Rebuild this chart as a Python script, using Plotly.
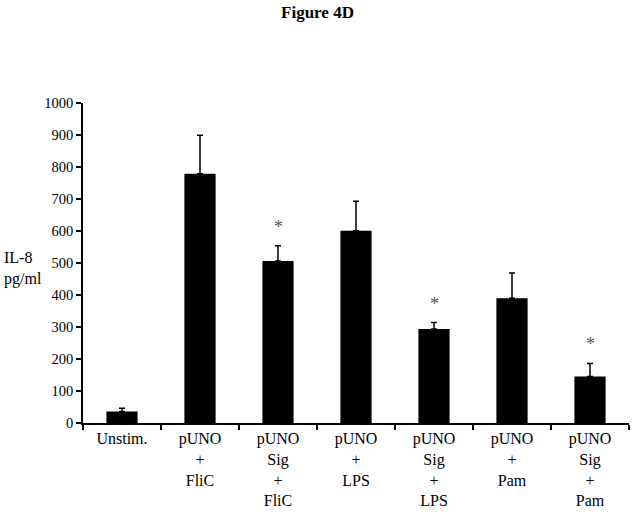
import plotly.graph_objects as go

categories = ["Unstim.", "pUNO<br>+<br>FliC", "pUNO<br>Sig<br>+<br>FliC", "pUNO<br>+<br>LPS",
              "pUNO<br>Sig<br>+<br>LPS", "pUNO<br>+<br>Pam", "pUNO<br>Sig<br>+<br>Pam"]
values = [36, 779, 506, 601, 294, 390, 145]
errors = [10, 120, 48, 92, 20, 79, 41]
significant = [False, False, True, False, True, False, True]
y_ticks = [0, 100, 200, 300, 400, 500, 600, 700, 800, 900, 1000]

font_family = "Liberation Serif"

fig = go.Figure()
fig.add_trace(go.Bar(
    x=categories, y=values,
    marker=dict(color="black", line=dict(color="black", width=0)),
    width=0.4,
    error_y=dict(type="data", symmetric=False, array=errors, arrayminus=[0]*len(errors),
                 color="black", thickness=1.5, width=3),
    showlegend=False,
))

for c, v, e, s in zip(categories, values, errors, significant):
    if s:
        fig.add_annotation(x=c, y=v + e, text="*", showarrow=False, yanchor="bottom",
                           yshift=7, font=dict(family=font_family, size=18, color="#555555"))

fig.add_annotation(xref="paper", yref="paper", x=-0.148, y=0.5, yshift=-5, text="IL-8<br>pg/ml",
                   showarrow=False, align="left", xanchor="left",
                   font=dict(family=font_family, size=16, color="black"))

fig.update_layout(
    width=635, height=513,
    margin=dict(l=83, r=6, t=103, b=90),
    paper_bgcolor="white", plot_bgcolor="white",
    font=dict(family=font_family, color="black"),
    title=dict(text="<b>Figure 4D</b>", x=0.5, xanchor="center", y=0.988, yanchor="top",
               font=dict(family=font_family, size=17, color="black")),
    bargap=0.6,
)
fig.update_xaxes(showline=True, linecolor="black", linewidth=1.5, ticks="outside",
                 tickson="boundaries", ticklen=5, tickcolor="black", tickwidth=1.5,
                 tickfont=dict(family=font_family, size=16, color="black"),
                 ticklabelstandoff=0, showgrid=False, automargin=False)
fig.update_yaxes(range=[0, 1000], tickvals=y_ticks, showline=True, linecolor="black",
                 linewidth=1.5, ticks="outside", ticklen=5, tickcolor="black", tickwidth=1.5,
                 tickfont=dict(family=font_family, size=14.5, color="black"),
                 showgrid=False, zeroline=False, automargin=False)

fig.write_html("out.html", config={"displayModeBar": False},
               post_script="document.body.style.margin='0';")
